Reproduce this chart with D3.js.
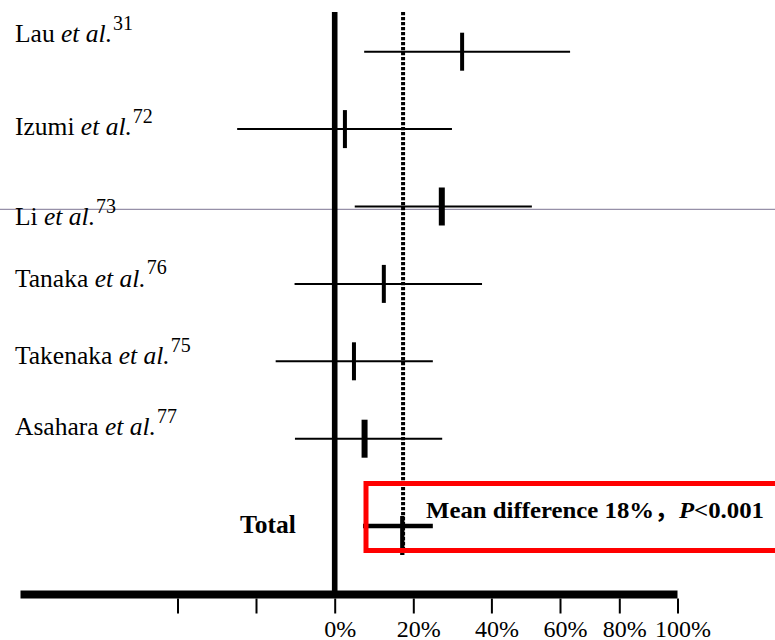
<!DOCTYPE html>
<html><head><meta charset="utf-8">
<script src="https://cdn.jsdelivr.net/npm/d3@7"></script>
<style>body{margin:0;background:#fff}svg{display:block}</style>
</head><body>
<svg id="c" width="775" height="640"></svg>
<script>
// ---- data ----
const studies = ["Lau", "Izumi", "Li", "Tanaka", "Takenaka", "Asahara"];
const refs = ["31", "72", "73", "76", "75", "77"];
const estimate = [32.5, 2.6, 27.3, 12.5, 4.9, 7.6];
const lower = [7.5, -24.8, 5.1, -10.2, -15.0, -10.1];
const upper = [63.4, 29.9, 51.8, 37.6, 25.0, 27.4];
const totalLabel = "Total";
const totalValues = [7.2, 17.2, 25.0]; // lower, estimate, upper
const meanDiff = 17.4;
const tickValues = [-40, -20, 0, 20, 40, 60, 80, 100];
const tickLabels = ["", "", "0%", "20%", "40%", "60%", "80%", "100%"];
const noteMain = "Mean difference 18%\uFF0C";
const noteP = "P";
const noteRest = "<0.001";

// ---- layout / style ----
const svg = d3.select("#c");
const serif = "'Liberation Serif','Times New Roman',Times,serif";
const x = d3.scaleLinear().domain(tickValues)
  .range([177.5, 256, 334.7, 413.3, 491.4, 560, 619.3, 677.5]);
const y = d3.scaleLinear().domain([0, studies.length - 1]).range([51.7, 438.7]);
const yTotal = 526;
const axisY = 594.5;
const topY = 12;
const labelDy = [-9.7, 5.9, 18.5, 2.8, 3.0, -3.7];
const markW = [4, 4, 6, 4, 4, 6];

// thin grey horizontal rule across page (artifact in reference)
svg.append("line").attr("x1", 0).attr("x2", 775).attr("y1", 209.3).attr("y2", 209.3)
  .attr("stroke", "#9690a8").attr("stroke-width", 1.3);

// mean difference dotted line
svg.append("line").attr("x1", x(meanDiff)).attr("x2", x(meanDiff))
  .attr("y1", topY).attr("y2", 550)
  .attr("stroke", "#000").attr("stroke-width", 4).attr("stroke-dasharray", "3.2,1.8");

// zero line
svg.append("line").attr("x1", x(0)).attr("x2", x(0)).attr("y1", topY).attr("y2", axisY)
  .attr("stroke", "#000").attr("stroke-width", 5.6);

// axis
const axis = d3.axisBottom(x).tickValues(tickValues).tickSize(15)
  .tickFormat((d, i) => tickLabels[i]);
const gA = svg.append("g").attr("transform", `translate(0,${axisY + 4})`).call(axis);
gA.select(".domain").remove();
gA.selectAll(".tick line").attr("stroke", "#000").attr("stroke-width", 2);
gA.selectAll(".tick text").attr("font-family", serif).attr("font-size", 24)
  .attr("fill", "#000").attr("y", 38).attr("dy", 0).attr("dx", 5);
svg.append("line").attr("x1", x(-80)).attr("x2", x(100)).attr("y1", axisY).attr("y2", axisY)
  .attr("stroke", "#000").attr("stroke-width", 8);

// study rows
const rows = studies.map((s, i) => ({ s, i, ref: refs[i], lo: lower[i], est: estimate[i], hi: upper[i] }));
const gR = svg.append("g");
gR.selectAll("line.ci").data(rows).join("line").attr("class", "ci")
  .attr("x1", d => x(d.lo)).attr("x2", d => x(d.hi))
  .attr("y1", d => y(d.i)).attr("y2", d => y(d.i))
  .attr("stroke", "#000").attr("stroke-width", 2);
gR.selectAll("line.pt").data(rows).join("line").attr("class", "pt")
  .attr("x1", d => x(d.est)).attr("x2", d => x(d.est))
  .attr("y1", d => y(d.i) - 19).attr("y2", d => y(d.i) + 19)
  .attr("stroke", "#000").attr("stroke-width", d => markW[d.i]);

const lab = gR.selectAll("text.lab").data(rows).join("text").attr("class", "lab")
  .attr("x", 15).attr("y", d => y(d.i) + labelDy[d.i])
  .attr("font-family", serif).attr("font-size", 25.5).attr("fill", "#000");
lab.append("tspan").text(d => d.s + " ");
lab.append("tspan").attr("font-style", "italic").text("et al.");
lab.append("tspan").attr("font-size", 20).attr("dy", -12.5).attr("dx", 1).text(d => d.ref);

// total row
svg.append("line").attr("x1", x(totalValues[0])).attr("x2", x(totalValues[2]))
  .attr("y1", yTotal).attr("y2", yTotal).attr("stroke", "#000").attr("stroke-width", 4.3);
svg.append("line").attr("x1", x(totalValues[1])).attr("x2", x(totalValues[1]))
  .attr("y1", yTotal - 10).attr("y2", yTotal + 29).attr("stroke", "#000").attr("stroke-width", 4.3);
svg.append("text").attr("x", 240).attr("y", 533).attr("font-family", serif)
  .attr("font-weight", "bold").attr("font-size", 25.5).attr("fill", "#000").text(totalLabel);

// red annotation box (clipped at the right edge as in the reference)
svg.append("rect").attr("x", 366).attr("y", 483.5).attr("width", 430).attr("height", 67)
  .attr("fill", "none").attr("stroke", "#ff0000").attr("stroke-width", 5);
const note = svg.append("text").attr("x", 426).attr("y", 518)
  .attr("font-family", serif + ",'Noto Sans CJK SC'").attr("font-weight", "bold")
  .attr("font-size", 24).attr("fill", "#000")
  .attr("textLength", 338).attr("lengthAdjust", "spacingAndGlyphs");
note.append("tspan").text(noteMain);
note.append("tspan").attr("font-style", "italic").text(noteP);
note.append("tspan").text(noteRest);
</script>
</body></html>
